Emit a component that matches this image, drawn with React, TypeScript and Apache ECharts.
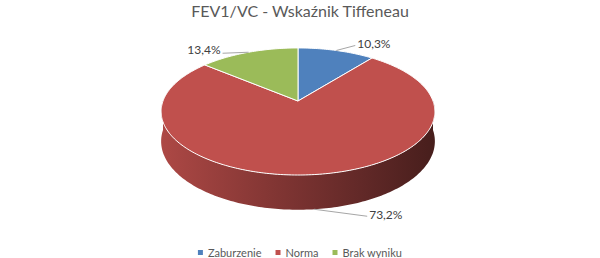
import React, { useEffect, useRef } from 'react';
import * as echarts from 'echarts';

const titleText = 'FEV1/VC - Wskaźnik Tiffeneau';
const categories = ['Zaburzenie', 'Norma', 'Brak wyniku'];
const values = [10.3, 73.2, 13.4];
const colors = ['#4f81bd', '#c0504d', '#9bbb59'];

// projection / layout constants
const CX = 298;
const CY = 101;
const A = 135;
const B = 61.8;
const K = 0.165;
const DEPTH = 29;
const FONT = 'Lato, "Open Sans", sans-serif';

// leader-line offsets (from the anchor on the rim) per slice
const leaderOffsets: number[][] = [
  [19, -5],
  [53, 7],
  [-26, 1],
];

function proj(thetaDeg: number, r: number, drop: number): number[] {
  const t = (thetaDeg * Math.PI) / 180;
  const u = r * Math.sin(t);
  const v = -r * Math.cos(t);
  const w = 1 - K * v;
  return [CX + (A * u) / w, CY + (B * v + drop) / w];
}

function shade(hex: string, f: number): string {
  const n = parseInt(hex.slice(1), 16);
  const r = Math.round(((n >> 16) & 255) * f);
  const g = Math.round(((n >> 8) & 255) * f);
  const b = Math.round((n & 255) * f);
  return `rgb(${r},${g},${b})`;
}

function fmt(v: number): string {
  return v.toFixed(1).replace('.', ',') + '%';
}

function renderSlice(i: number, value: number) {
  const total = values.reduce((a, b) => a + b, 0);
  let before = 0;
  for (let j = 0; j < i; j++) before += values[j];
  const a0 = (before / total) * 360;
  const a1 = ((before + value) / total) * 360;
  const children: any[] = [];

  // side wall (front half only)
  const s0 = Math.max(a0, 90);
  const s1 = Math.min(a1, 270);
  if (s1 > s0) {
    const pts: number[][] = [];
    const steps = Math.max(2, Math.ceil(s1 - s0));
    for (let k = 0; k <= steps; k++) pts.push(proj(s0 + ((s1 - s0) * k) / steps, 1, 0));
    for (let k = steps; k >= 0; k--) pts.push(proj(s0 + ((s1 - s0) * k) / steps, 1, DEPTH));
    children.push({
      type: 'polygon',
      silent: true,
      shape: { points: pts },
      style: {
        fill: new echarts.graphic.LinearGradient(0, 0, 1, 0, [
          { offset: 0, color: shade(colors[i], 0.9) },
          { offset: 0.4, color: shade(colors[i], 0.68) },
          { offset: 0.75, color: shade(colors[i], 0.5) },
          { offset: 1, color: shade(colors[i], 0.37) },
        ]),
        stroke: null,
      },
    });
  }

  // top face
  const top: number[][] = [[CX, CY]];
  const steps = Math.max(2, Math.ceil(a1 - a0));
  for (let k = 0; k <= steps; k++) top.push(proj(a0 + ((a1 - a0) * k) / steps, 1, 0));
  children.push({
    type: 'polygon',
    silent: true,
    shape: { points: top },
    style: { fill: colors[i], stroke: '#ffffff', lineWidth: 1, lineJoin: 'round' },
  });

  // label with leader line
  const mid = (a0 + a1) / 2;
  const front = mid > 90 && mid < 270;
  const anchor = proj(mid, 1, front ? DEPTH : 0);
  const off = leaderOffsets[i];
  const end = [anchor[0] + off[0], anchor[1] + off[1]];
  children.push({
    type: 'polyline',
    silent: true,
    shape: { points: [anchor, end] },
    style: { stroke: '#a6a6a6', lineWidth: 1, fill: null },
  });
  const right = off[0] >= 0;
  children.push({
    type: 'text',
    silent: true,
    style: {
      text: fmt(value),
      x: end[0] + (right ? 2 : -2),
      y: end[1] + (right ? -2 : -4),
      fill: '#404040',
      fontSize: 12,
      fontFamily: FONT,
      align: right ? 'left' : 'right',
      verticalAlign: 'middle',
    },
  });

  return { type: 'group', children };
}

export default function App() {
  const ref = useRef<HTMLDivElement>(null);
  useEffect(() => {
    const chart = echarts.init(ref.current!, null, { renderer: 'svg' });
    chart.setOption({
      animation: false,
      backgroundColor: '#ffffff',
      title: {
        text: titleText,
        left: 'center',
        top: 0,
        padding: [2, 0, 0, 0],
        textStyle: { fontSize: 16, fontWeight: 'normal', color: '#595959', fontFamily: FONT },
      },
      legend: {
        data: categories,
        left: 'center',
        top: 242,
        icon: 'rect',
        itemWidth: 5,
        itemHeight: 5,
        itemGap: 14,
        textStyle: { fontSize: 11, color: '#595959', fontFamily: FONT },
      },
      series: categories.map((name, i) => ({
        type: 'custom',
        name,
        coordinateSystem: 'none',
        data: [[values[i]]],
        itemStyle: { color: colors[i] },
        renderItem: (_params: any, api: any) => renderSlice(i, api.value(0) as number),
      })),
    });
    return () => chart.dispose();
  }, []);
  return (
    <div
      ref={ref}
      style={{ position: 'absolute', left: 0, top: 0, width: 600, height: 258 }}
    />
  );
}
